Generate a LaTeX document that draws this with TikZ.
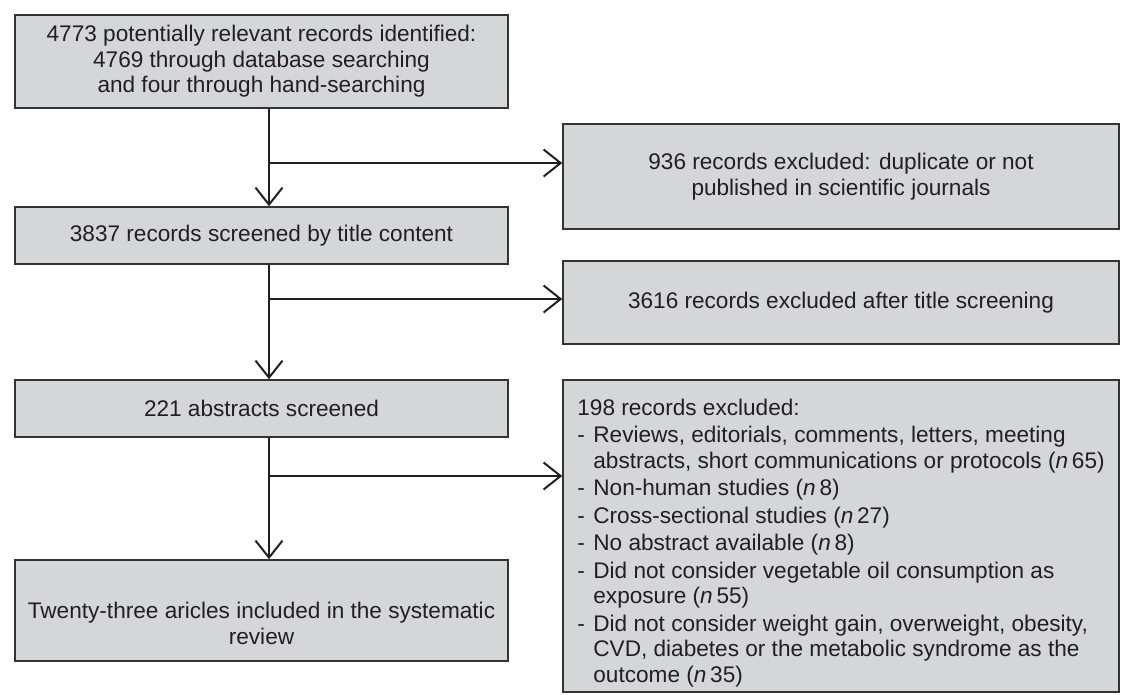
\documentclass[tikz,border=0pt]{standalone}
\usepackage{fontspec}
\setmainfont{Liberation Sans}
\usepackage{xcolor}
\usepackage{tikz}
\usetikzlibrary{arrows.meta}

\definecolor{boxgray}{HTML}{D5D6D8}
\definecolor{boxline}{HTML}{333333}
\definecolor{ink}{HTML}{231F20}
\newcommand{\dashitem}{\makebox[16pt][l]{-}}
\newcommand{\contline}{\hspace*{16pt}}

\begin{document}
\begin{tikzpicture}[x=1pt, y=1pt]
\useasboundingbox (0,0) rectangle (1121,-694);
\coordinate (trunk) at (269,0);
\coordinate (j1) at (269,-163);
\coordinate (j2) at (269,-299);
\coordinate (j3) at (269,-476);

\begin{scope}[every node/.style={rectangle, draw=boxline, line width=1.6pt, fill=boxgray, text=ink,
              inner sep=0pt, align=center, font=\fontsize{22.6pt}{25.5pt}\selectfont}]
  \node[minimum width=493pt, minimum height=93pt] (rec) at (261.5,-61.5) {4773 potentially relevant records identified:\\ 4769 through database searching\\ and four through hand-searching};
  \node[minimum width=556pt, minimum height=105pt] (dup) at (841,-176.5) {936 records excluded: duplicate or not\\ published in scientific journals};
  \node[minimum width=493pt, minimum height=57pt] (scr) at (261.5,-235.5) {3837 records screened by title content};
  \node[minimum width=556pt, minimum height=83pt] (tit) at (841,-302.5) {3616 records excluded after title screening};
  \node[minimum width=493pt, minimum height=57pt] (abs) at (261.5,-408.5) {221 abstracts screened};
  \node[minimum width=493pt, minimum height=101pt] (inc) at (261.5,-610.5) {};
  \node[draw=none, fill=none] (inctxt) at ([yshift=-13pt]inc.center) {Twenty-three aricles included in the systematic\\ review};
  \node[minimum width=556pt, minimum height=312pt] (exc) at (841,-536) {};
  \node[draw=none, fill=none, align=left] (exctxt) at ([yshift=-7pt]exc.center) {%
    198 records excluded:\\[1.5pt]
    \dashitem Reviews, editorials, comments, letters, meeting\\
    \contline abstracts, short communications or protocols (\textit{n}\,65)\\[2pt]
    \dashitem Non-human studies (\textit{n}\,8)\\[2pt]
    \dashitem Cross-sectional studies (\textit{n}\,27)\\[2pt]
    \dashitem No abstract available (\textit{n}\,8)\\[2pt]
    \dashitem Did not consider vegetable oil consumption as\\
    \contline exposure (\textit{n}\,55)\\[2pt]
    \dashitem Did not consider weight gain, overweight, obesity,\\
    \contline CVD, diabetes or the metabolic syndrome as the\\
    \contline outcome (\textit{n}\,35)};
\end{scope}

\begin{scope}[>={Straight Barb[length=17pt, width=27pt]},
              every edge/.style={draw=ink, line width=2pt}]
    \path [->] (rec.south -| trunk) edge (scr.north -| trunk);
    \path [->] (j1) edge (j1 -| dup.west);
    \path [->] (scr.south -| trunk) edge (abs.north -| trunk);
    \path [->] (j2) edge (j2 -| tit.west);
    \path [->] (abs.south -| trunk) edge (inc.north -| trunk);
    \path [->] (j3) edge (j3 -| exc.west);
\end{scope}

\end{tikzpicture}
\end{document}
